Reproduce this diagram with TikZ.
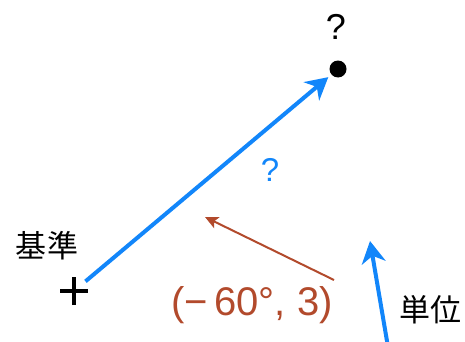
\documentclass[tikz,border=0pt]{standalone}
\usepackage{fontspec}
\setmainfont{Liberation Sans}
\newfontfamily\jpfont{Noto Sans CJK JP}
\usepackage{xcolor}
\usepackage{tikz}
\usetikzlibrary{arrows.meta}
\definecolor{vecblue}{RGB}{18, 134, 250}
\definecolor{rustred}{RGB}{178, 74, 44}

\begin{document}
\begin{tikzpicture}[x=1pt, y=1pt,
    vec/.style={-{Stealth[length=22pt, width=24pt, inset=7pt]}, line width=4pt, vecblue},
    hint/.style={-{Stealth[length=13pt, width=12pt, inset=3pt]}, line width=2pt, rustred},
    tag/.style={inner sep=0pt, font=\jpfont\fontsize{31}{31}\selectfont},
    query/.style={inner sep=0pt, font=\fontsize{36}{36}\selectfont},
    plusmark/.style={line width=4pt}
]
    \useasboundingbox (0,0) rectangle (465,341);

    % reference mark and target point
    \coordinate (ref) at (74,50);
    \draw[plusmark] ([xshift=-14pt]ref) -- ([xshift=14pt]ref);
    \draw[plusmark] ([yshift=-14pt]ref) -- ([yshift=14pt]ref);
    \node[tag] (refname) at (47,95) {基準};

    \node[circle, fill=black, inner sep=0pt, minimum size=17pt] (target) at (338,272) {};
    \node[query] (targetq) at (336,314) {?};

    % vector from reference to target
    \draw[vec, shorten <=15pt, shorten >=4pt] (ref) -- (target);
    \node[query, vecblue, font=\fontsize{33}{33}\selectfont] (vecq) at (270,171) {?};

    % polar coordinate hint
    \node[inner sep=0pt, rustred, font=\fontsize{40}{40}\selectfont] (polar) at (252,36)
        {(−\,60°, 3)};
    \coordinate (hintfrom) at (334,61);
    \coordinate (hintto) at (205,124);
    \draw[hint] (hintfrom) -- (hintto);

    % unit vector
    \coordinate (unitfrom) at (388,-6);
    \coordinate (unitto) at (370,100);
    \draw[vec] (unitfrom) -- (unitto);
    \node[tag] (unitname) at (430,31) {単位};
\end{tikzpicture}
\end{document}
